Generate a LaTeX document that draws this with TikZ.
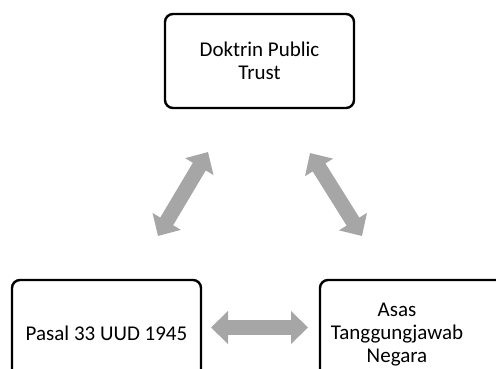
\documentclass[tikz,border=0pt]{standalone}
\usepackage{fontspec}
\setmainfont{Carlito}
\usetikzlibrary{arrows.meta,positioning}
\definecolor{arrowgray}{RGB}{166,166,166}
\tikzset{
    box/.style={rectangle, draw, line width=2.4pt, rounded corners=8pt, minimum width=189pt, minimum height=94pt, align=center, font=\fontsize{21}{23}\selectfont},
    boxtext/.style={align=center, font=\fontsize{21}{23}\selectfont},
    dblarrow/.style={draw=arrowgray, line width=15pt, {Triangle[width=32pt,length=17pt]}-{Triangle[width=32pt,length=17pt]}}
}
\begin{document}
\begin{tikzpicture}[x=1pt,y=-1pt]
    \useasboundingbox (0,0) rectangle (496,368);
    \clip (0,0) rectangle (496,368);

    % Three boxes
    \node [box] (doktrin) at (259.5,61) {Doktrin Public\\Trust};
    \node [box, minimum height=106pt] (pasal) at (106.5,333) {Pasal 33 UUD 1945};
    \node [box, minimum height=106pt] (asas) at (414.5,333) {};
    \node [boxtext] (asaslabel) at (397,335) {Asas\\Tanggungjawab\\Negara};

    % Arrow ends
    \coordinate (kiri1) at (158,236);
    \coordinate (kiri2) at (208,152);
    \coordinate (kanan1) at (310,153);
    \coordinate (kanan2) at (362,236);
    \coordinate (bawah1) at (211,327.5);
    \coordinate (bawah2) at (308,327.5);

    % Two-way arrows
    \draw [dblarrow] (kiri1) -- (kiri2);
    \draw [dblarrow] (kanan1) -- (kanan2);
    \draw [dblarrow] (bawah1) -- (bawah2);
\end{tikzpicture}
\end{document}
